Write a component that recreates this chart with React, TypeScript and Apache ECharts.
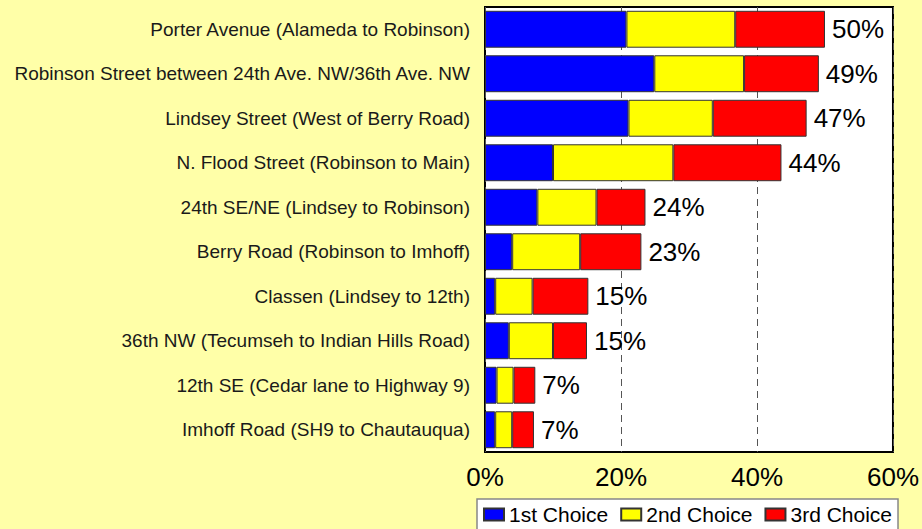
import React, { useEffect, useRef } from "react";
import * as echarts from "echarts";

const categories = [
  "Porter Avenue (Alameda to Robinson)",
  "Robinson Street between 24th Ave. NW/36th Ave. NW",
  "Lindsey Street (West of Berry Road)",
  "N. Flood Street (Robinson to Main)",
  "24th SE/NE (Lindsey to Robinson)",
  "Berry Road (Robinson to Imhoff)",
  "Classen (Lindsey to 12th)",
  "36th NW (Tecumseh to Indian Hills Road)",
  "12th SE (Cedar lane to Highway 9)",
  "Imhoff Road (SH9 to Chautauqua)",
];

const firstChoice = [20.8, 24.9, 21.1, 10.0, 7.7, 4.0, 1.5, 3.5, 1.7, 1.5];
const secondChoice = [16.0, 13.2, 12.4, 17.7, 8.7, 10.0, 5.5, 6.5, 2.5, 2.5];
const thirdChoice = [13.2, 11.0, 13.8, 15.9, 7.2, 9.0, 8.2, 5.0, 3.2, 3.2];
const totalLabels = [50, 49, 47, 44, 24, 23, 15, 15, 7, 7];

const seriesNames = ["1st Choice", "2nd Choice", "3rd Choice"];
const xTicks = [0, 20, 40, 60];

const FONT = "Liberation Sans, Arial, sans-serif";

export default function App() {
  const ref = useRef<HTMLDivElement>(null);

  useEffect(() => {
    document.body.style.margin = "0";
    const chart = echarts.init(ref.current!, null, { renderer: "svg" });
    const barStyle = (color: string) => ({
      color,
      borderColor: "#333333",
      borderWidth: 1,
    });
    chart.setOption({
      animation: false,
      backgroundColor: "#FFFFA8",
      textStyle: { fontFamily: FONT },
      grid: {
        left: 485,
        right: 29,
        top: 7,
        bottom: 77,
        show: true,
        backgroundColor: "#FFFFFF",
        borderColor: "#000000",
        borderWidth: 2,
        containLabel: false,
      },
      legend: {
        data: seriesNames,
        left: 477,
        top: 499,
        padding: [5, 6, 8, 6],
        itemWidth: 20,
        itemHeight: 12,
        itemGap: 12,
        icon: "rect",
        backgroundColor: "#FFFFFF",
        borderColor: "#888888",
        borderWidth: 1.5,
        textStyle: { fontSize: 21, color: "#000000", fontFamily: FONT },
      },
      xAxis: {
        type: "value",
        min: xTicks[0],
        max: xTicks[xTicks.length - 1],
        interval: 20,
        axisLine: { show: false },
        axisTick: { show: false },
        axisLabel: {
          formatter: "{value}%",
          fontSize: 26,
          color: "#000000",
          margin: 12,
          fontFamily: FONT,
        },
        splitLine: {
          show: true,
          lineStyle: { color: "#555555", type: [7, 5], width: 1 },
        },
      },
      yAxis: {
        type: "category",
        data: categories,
        inverse: true,
        axisLine: { show: false },
        axisTick: { show: false },
        axisLabel: {
          fontSize: 19,
          color: "#1a1a1a",
          margin: 15,
          fontFamily: FONT,
        },
      },
      series: [
        {
          name: seriesNames[0],
          type: "bar",
          stack: "total",
          barCategoryGap: "17%",
          data: firstChoice,
          itemStyle: barStyle("#0000FF"),
        },
        {
          name: seriesNames[1],
          type: "bar",
          stack: "total",
          data: secondChoice,
          itemStyle: barStyle("#FFFF00"),
        },
        {
          name: seriesNames[2],
          type: "bar",
          stack: "total",
          data: thirdChoice,
          itemStyle: barStyle("#FF0000"),
          label: {
            show: true,
            position: "right",
            distance: 7,
            fontSize: 26,
            color: "#000000",
            fontFamily: FONT,
            formatter: (p: any) => totalLabels[p.dataIndex] + "%",
          },
        },
      ],
    });
    return () => chart.dispose();
  }, []);

  return <div ref={ref} style={{ width: 922, height: 529 }} />;
}
